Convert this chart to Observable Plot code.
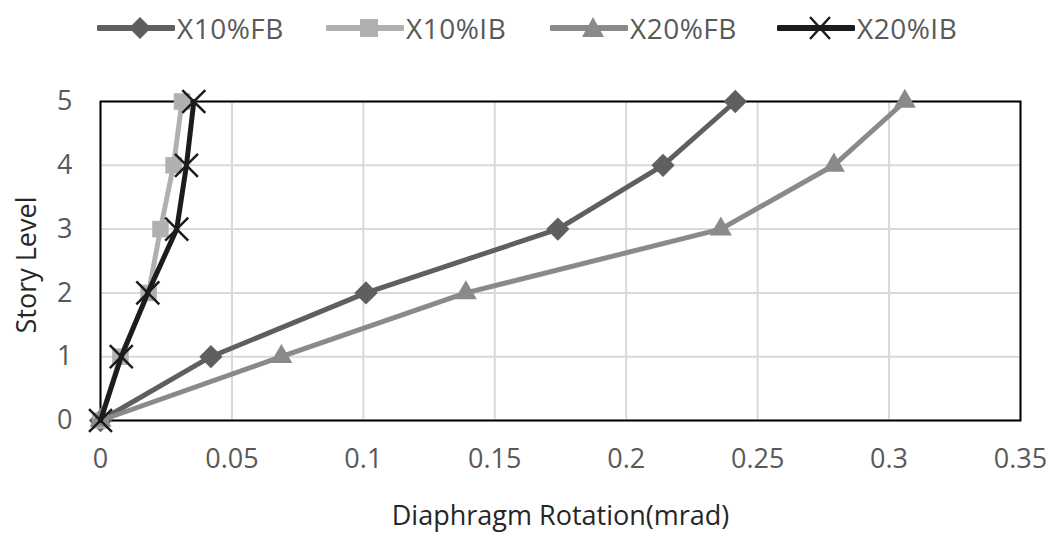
<!DOCTYPE html>
<html>
<head>
<meta charset="utf-8">
<script src="https://cdn.jsdelivr.net/npm/d3@7"></script>
<script src="https://cdn.jsdelivr.net/npm/@observablehq/plot@0.6"></script>
<style>
  html, body { margin: 0; padding: 0; background: #fff; }
  body { width: 1049px; height: 534px; overflow: hidden; font-family: "Open Sans", sans-serif; }
  #legend { position: relative; height: 60px; width: 1049px; }
  .item { position: absolute; top: 13px; height: 30px; display: flex; align-items: center; }
  .item span { font-size: 28px; color: #595959; margin-left: 2px; line-height: 30px; letter-spacing: 0.5px; }
  #chart svg { display: block; }
</style>
</head>
<body>
<div id="legend"></div>
<div id="chart"></div>
<script>
// ---- data ----
const seriesNames = ["X10%FB", "X10%IB", "X20%FB", "X20%IB"];
const storyLevels = [0, 1, 2, 3, 4, 5];
const x10FB = [0, 0.042, 0.101, 0.174, 0.214, 0.2415];
const x10IB = [0, 0.0076, 0.0183, 0.0228, 0.0278, 0.031];
const x20FB = [0, 0.0688, 0.139, 0.236, 0.279, 0.306];
const x20IB = [0, 0.0079, 0.018, 0.029, 0.0327, 0.0355];
const xTicks = [0, 0.05, 0.1, 0.15, 0.2, 0.25, 0.3, 0.35];
const yTicks = [0, 1, 2, 3, 4, 5];

const seriesColors = ["#5f5f5f", "#b0b0b0", "#8a8a8a", "#1c1c1c"];
const seriesSymbols = ["diamond2", "square2", "triangle2", "times"];
const seriesValues = [x10FB, x10IB, x20FB, x20IB];

const rows = [];
seriesNames.forEach((name, i) => {
  storyLevels.forEach((lvl, j) => rows.push({series: name, level: lvl, rot: seriesValues[i][j]}));
});

// ---- legend ----
const legend = document.getElementById("legend");
const legendX = [97, 326, 550, 777];
function markerSvg(i, color) {
  const cx = 43, cy = 15;
  if (i === 0) return `<polygon points="${cx},${cy-11} ${cx+11},${cy} ${cx},${cy+11} ${cx-11},${cy}" fill="${color}"/>`;
  if (i === 1) return `<rect x="${cx-9}" y="${cy-9}" width="18" height="18" fill="${color}"/>`;
  if (i === 2) return `<polygon points="${cx},${cy-11} ${cx+11},${cy+9} ${cx-11},${cy+9}" fill="${color}"/>`;
  return `<path d="M${cx-10},${cy-11}L${cx+10},${cy+11}M${cx+10},${cy-11}L${cx-10},${cy+11}" stroke="${color}" stroke-width="2.5" fill="none"/>`;
}
seriesNames.forEach((name, i) => {
  const div = document.createElement("div");
  div.className = "item";
  div.style.left = legendX[i] + "px";
  div.innerHTML = `<svg width="78" height="30"><line x1="2" y1="15" x2="76" y2="15" stroke="${seriesColors[i]}" stroke-width="6" stroke-linecap="round"/>${markerSvg(i, seriesColors[i])}</svg><span>${name}</span>`;
  legend.appendChild(div);
});

// ---- chart ----
const tickFont = 27;
const marks = [
  Plot.ruleX(xTicks, {stroke: "#d9d9d9", strokeWidth: 2}),
  Plot.ruleY(yTicks, {stroke: "#d9d9d9", strokeWidth: 2}),
  Plot.frame({stroke: "#000", strokeWidth: 2}),
  Plot.axisX(xTicks, {tickSize: 0, tickPadding: 28, fontSize: tickFont, fill: "#595959", label: null, tickFormat: d3.format("~g")}),
  Plot.axisY(yTicks, {tickSize: 0, tickPadding: 28, fontSize: tickFont, fill: "#595959", label: null, tickFormat: d3.format("d")}),
  Plot.text(["Diaphragm Rotation(mrad)"], {frameAnchor: "bottom", dy: 96, fontSize: 27, fill: "#262626", lineAnchor: "middle"}),
  Plot.text(["Story Level"], {frameAnchor: "left", textAnchor: "middle", dx: -73, dy: 4, rotate: -90, fontSize: 27, fill: "#262626", lineAnchor: "middle"})
];
seriesNames.forEach((name, i) => {
  const d = rows.filter(r => r.series === name);
  marks.push(Plot.line(d, {x: "rot", y: "level", stroke: seriesColors[i], strokeWidth: 5, strokeLinejoin: "round"}));
  if (seriesSymbols[i] === "times") {
    marks.push(Plot.dot(d, {x: "rot", y: "level", symbol: () => "times", r: 10.5, stroke: seriesColors[i], strokeWidth: 2.5, fill: "none"}));
  } else {
    marks.push(Plot.dot(d, {x: "rot", y: "level", symbol: () => seriesSymbols[i], r: 10.5, fill: seriesColors[i], stroke: "none"}));
  }
});

const chart = Plot.plot({
  width: 1049,
  height: 474,
  marginTop: 41,
  marginBottom: 114,
  marginLeft: 100,
  marginRight: 29,
  style: {fontFamily: "'Open Sans', sans-serif", background: "#fff"},
  x: {domain: [0, 0.35]},
  y: {domain: [0, 5]},
  symbol: {type: "identity"},
  marks
});
document.getElementById("chart").appendChild(chart);
</script>
</body>
</html>
